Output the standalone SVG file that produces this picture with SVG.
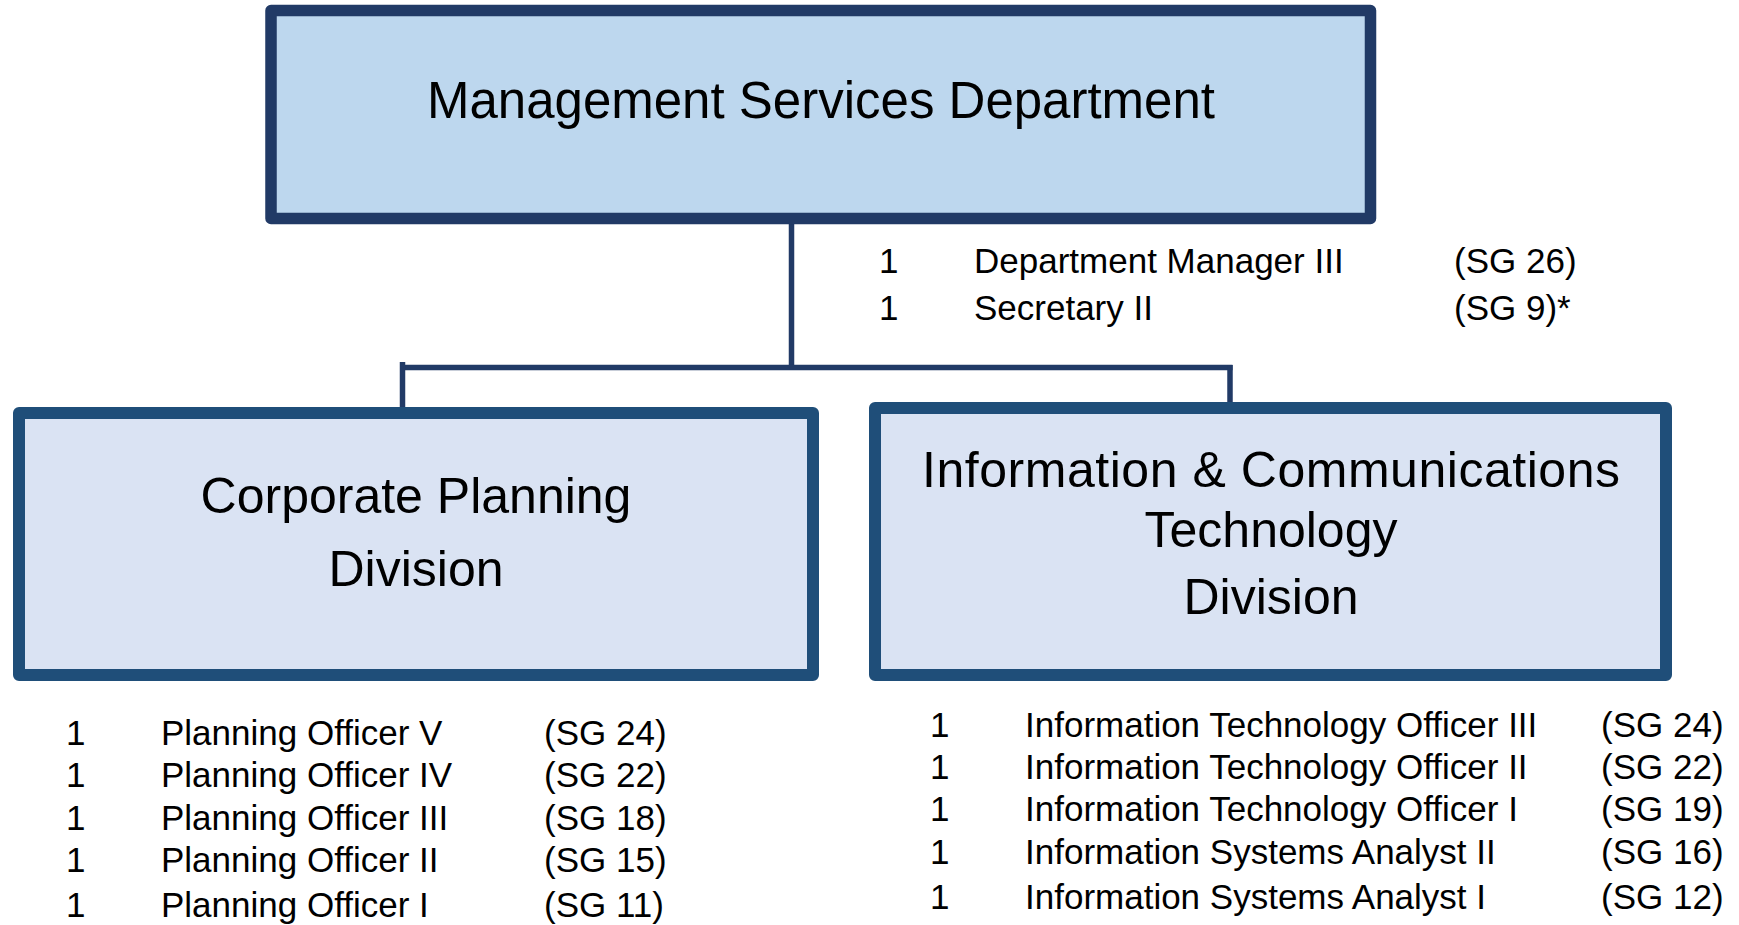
<svg xmlns="http://www.w3.org/2000/svg" width="1739" height="925" viewBox="0 0 1739 925">
<style>
.box{stroke-linejoin:round}
.top{fill:#bdd7ee;stroke:#213a66;stroke-width:11.5}
.div{fill:#dae3f3;stroke:#1f4e79;stroke-width:12}
.title{font-family:"Liberation Sans",Arial,sans-serif;font-size:51px;fill:#000;text-anchor:middle}
.dtitle{font-family:"Liberation Sans",Arial,sans-serif;font-size:50px;fill:#000;text-anchor:middle}
.lst{font-family:"Liberation Sans",Arial,sans-serif;font-size:35px;fill:#000}
.conn{stroke:#213a66;stroke-width:5.5;fill:none}
</style>
<g id="connectors">
<line class="conn" x1="791.5" y1="222" x2="791.5" y2="368"/>
<line class="conn" x1="400" y1="367.5" x2="1232.5" y2="367.5"/>
<line class="conn" x1="402.5" y1="362" x2="402.5" y2="409"/>
<line class="conn" x1="1230" y1="365" x2="1230" y2="404"/>
</g>
<g id="node-msd">
<rect class="box top" x="271" y="10.5" width="1099.5" height="208"/>
<text class="title" x="821" y="118">Management Services Department</text>
</g>
<g id="msd-staff">
<text class="lst" x="879" y="273">1</text>
<text class="lst" x="974" y="273">Department Manager III</text>
<text class="lst" x="1454" y="273">(SG 26)</text>
<text class="lst" x="879" y="320">1</text>
<text class="lst" x="974" y="320">Secretary II</text>
<text class="lst" x="1454" y="320">(SG 9)*</text>
</g>
<g id="node-cpd">
<rect class="box div" x="19" y="413" width="794" height="262"/>
<text class="dtitle" x="416" y="513">Corporate Planning</text>
<text class="dtitle" x="416" y="586">Division</text>
</g>
<g id="node-ictd">
<rect class="box div" x="875" y="408" width="791" height="267"/>
<text class="dtitle" x="1271" y="487" textLength="698">Information &amp; Communications</text>
<text class="dtitle" x="1271" y="547">Technology</text>
<text class="dtitle" x="1271" y="614">Division</text>
</g>
<g id="cpd-staff">
<text class="lst" x="66" y="745">1</text><text class="lst" x="161" y="745">Planning Officer V</text><text class="lst" x="544" y="745">(SG 24)</text>
<text class="lst" x="66" y="787">1</text><text class="lst" x="161" y="787">Planning Officer IV</text><text class="lst" x="544" y="787">(SG 22)</text>
<text class="lst" x="66" y="830">1</text><text class="lst" x="161" y="830">Planning Officer III</text><text class="lst" x="544" y="830">(SG 18)</text>
<text class="lst" x="66" y="872">1</text><text class="lst" x="161" y="872">Planning Officer II</text><text class="lst" x="544" y="872">(SG 15)</text>
<text class="lst" x="66" y="917">1</text><text class="lst" x="161" y="917">Planning Officer I</text><text class="lst" x="544" y="917">(SG 11)</text>
</g>
<g id="ictd-staff">
<text class="lst" x="930" y="737">1</text><text class="lst" x="1025" y="737">Information Technology Officer III</text><text class="lst" x="1601" y="737">(SG 24)</text>
<text class="lst" x="930" y="779">1</text><text class="lst" x="1025" y="779">Information Technology Officer II</text><text class="lst" x="1601" y="779">(SG 22)</text>
<text class="lst" x="930" y="821">1</text><text class="lst" x="1025" y="821">Information Technology Officer I</text><text class="lst" x="1601" y="821">(SG 19)</text>
<text class="lst" x="930" y="864">1</text><text class="lst" x="1025" y="864">Information Systems Analyst II</text><text class="lst" x="1601" y="864">(SG 16)</text>
<text class="lst" x="930" y="909">1</text><text class="lst" x="1025" y="909">Information Systems Analyst I</text><text class="lst" x="1601" y="909">(SG 12)</text>
</g>
</svg>
